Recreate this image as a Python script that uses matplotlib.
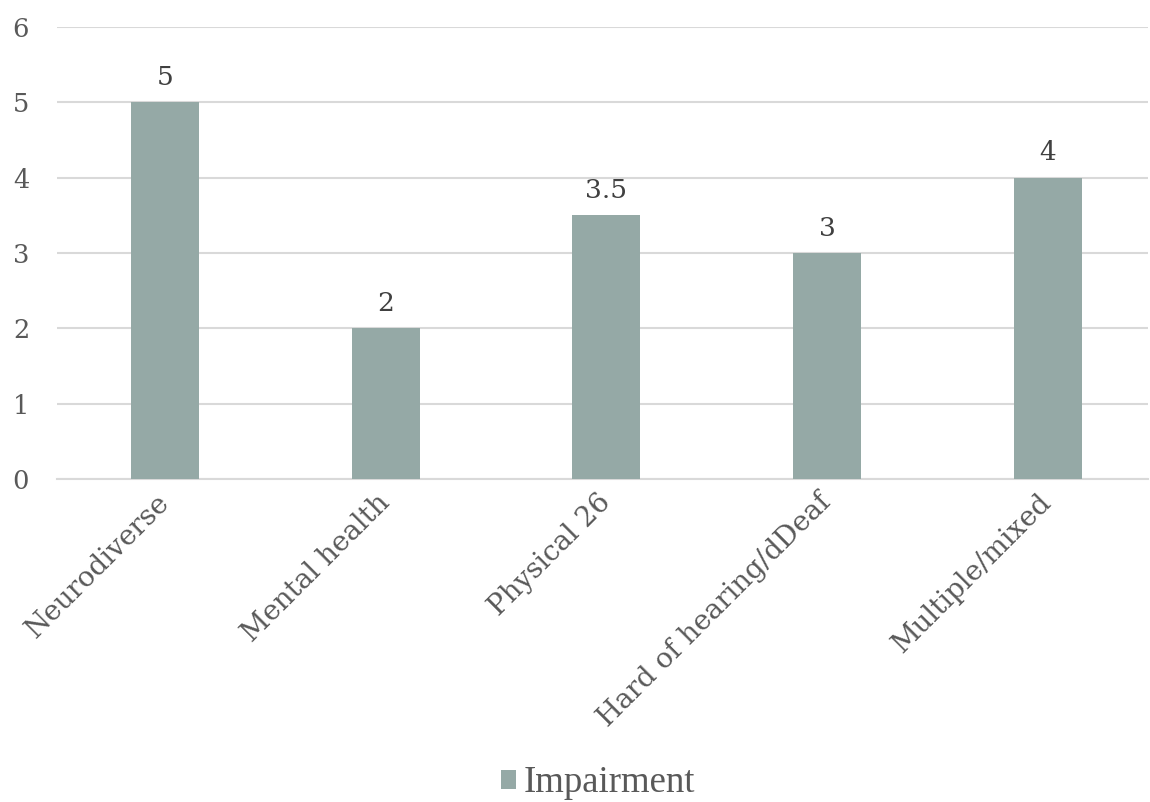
import matplotlib
matplotlib.use("Agg")
import matplotlib.pyplot as plt

categories = ["Neurodiverse", "Mental health", "Physical 26", "Hard of hearing/dDeaf", "Multiple/mixed"]
values = [5, 2, 3.5, 3, 4]
value_labels = ["5", "2", "3.5", "3", "4"]
series_name = "Impairment"
yticks = [0, 1, 2, 3, 4, 5, 6]

plt.rcParams['font.family'] = ['DejaVu Serif']
text_color = "#595959"
bar_color = "#95A9A6"
grid_color = "#D9D9D9"

fig = plt.figure(figsize=(11.5, 8.02), dpi=100)
ax = fig.add_axes([57/1150, (802-479)/802, (1148-57)/1150, (479-27)/802])

x = list(range(len(categories)))
bars = ax.bar(x, values, width=0.308, color=bar_color, label=series_name, zorder=3)
ax.set_xlim(-0.489, 4.454)
ax.set_ylim(0, 6)
ax.set_yticks(yticks)
ax.set_yticklabels([str(t) for t in yticks], fontsize=18.5, color=text_color)
ax.yaxis.grid(True, color=grid_color, linewidth=1.5, zorder=0)
ax.set_axisbelow(True)
for s in ["top", "right", "left"]:
    ax.spines[s].set_visible(False)
ax.spines["bottom"].set_color(grid_color)
ax.spines["bottom"].set_linewidth(1.5)
ax.tick_params(axis="y", length=0, pad=20)
ax.tick_params(axis="x", length=0, pad=14)
ax.set_xticks(x)
ax.set_xticklabels(categories, rotation=45, ha="right", va="center", rotation_mode="anchor",
                   fontsize=20, color=text_color)
for xi, v, lab in zip(x, values, value_labels):
    ax.annotate(lab, (xi, v), xytext=(0, 9), textcoords="offset points",
                ha="center", va="bottom", fontsize=19, color="#404040")

fig.legend(handles=[bars], labels=[series_name], loc="center", bbox_to_anchor=(598/1150, 1 - 783/802),
           frameon=False, prop={"family": "Liberation Serif", "size": 26.5},
           handlelength=0.42, handleheight=0.42, handletextpad=0.2,
           labelcolor=text_color)
fig.savefig("out.png", dpi=100)
